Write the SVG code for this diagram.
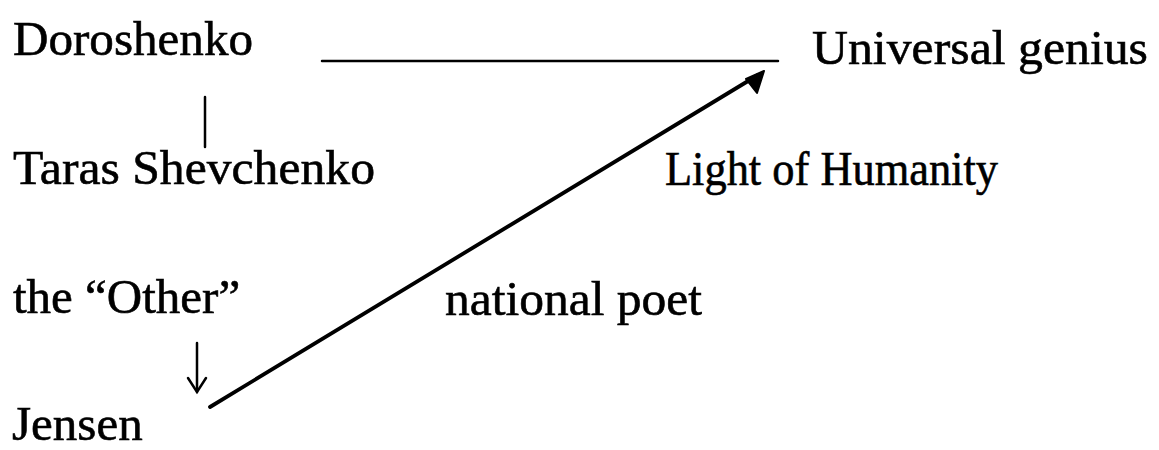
<svg xmlns="http://www.w3.org/2000/svg" width="1159" height="450" viewBox="0 0 1159 450">
<style>
text{font-family:"Liberation Serif","Times New Roman",serif;font-size:49px;fill:#000;stroke:#000;stroke-width:0.6}
.ln{stroke:#000;fill:none;stroke-linecap:round}
</style>
<rect width="1159" height="450" fill="#fff"/>
<g id="n-doroshenko"><text x="13" y="55" textLength="240" lengthAdjust="spacingAndGlyphs">Doroshenko</text></g>
<g id="n-universal"><text x="812" y="64" textLength="336" lengthAdjust="spacingAndGlyphs">Universal genius</text></g>
<g id="n-taras"><text x="13" y="184" textLength="362" lengthAdjust="spacingAndGlyphs">Taras Shevchenko</text></g>
<g id="n-light"><text x="665" y="185" textLength="333" lengthAdjust="spacingAndGlyphs">Light of Humanity</text></g>
<g id="n-other"><text x="13" y="313">the “Other”</text></g>
<g id="n-national"><text x="445" y="315" textLength="257" lengthAdjust="spacingAndGlyphs">national poet</text></g>
<g id="n-jensen"><text x="12" y="440">Jensen</text></g>
<g id="connectors">
<line class="ln" x1="322" y1="61" x2="778" y2="61" stroke-width="2.5"/>
<line class="ln" x1="205" y1="97" x2="205" y2="147" stroke-width="2.5"/>
<line class="ln" x1="197" y1="343" x2="197" y2="392" stroke-width="2.5"/>
<polyline class="ln" points="188,378 197,392 206,378" stroke-width="2.5"/>
<line class="ln" x1="210" y1="407" x2="758" y2="75" stroke-width="3.8"/>
<polygon points="764,71 746,79 757,93" fill="#000" stroke="#000" stroke-width="2" stroke-linejoin="round"/>
</g>
</svg>
